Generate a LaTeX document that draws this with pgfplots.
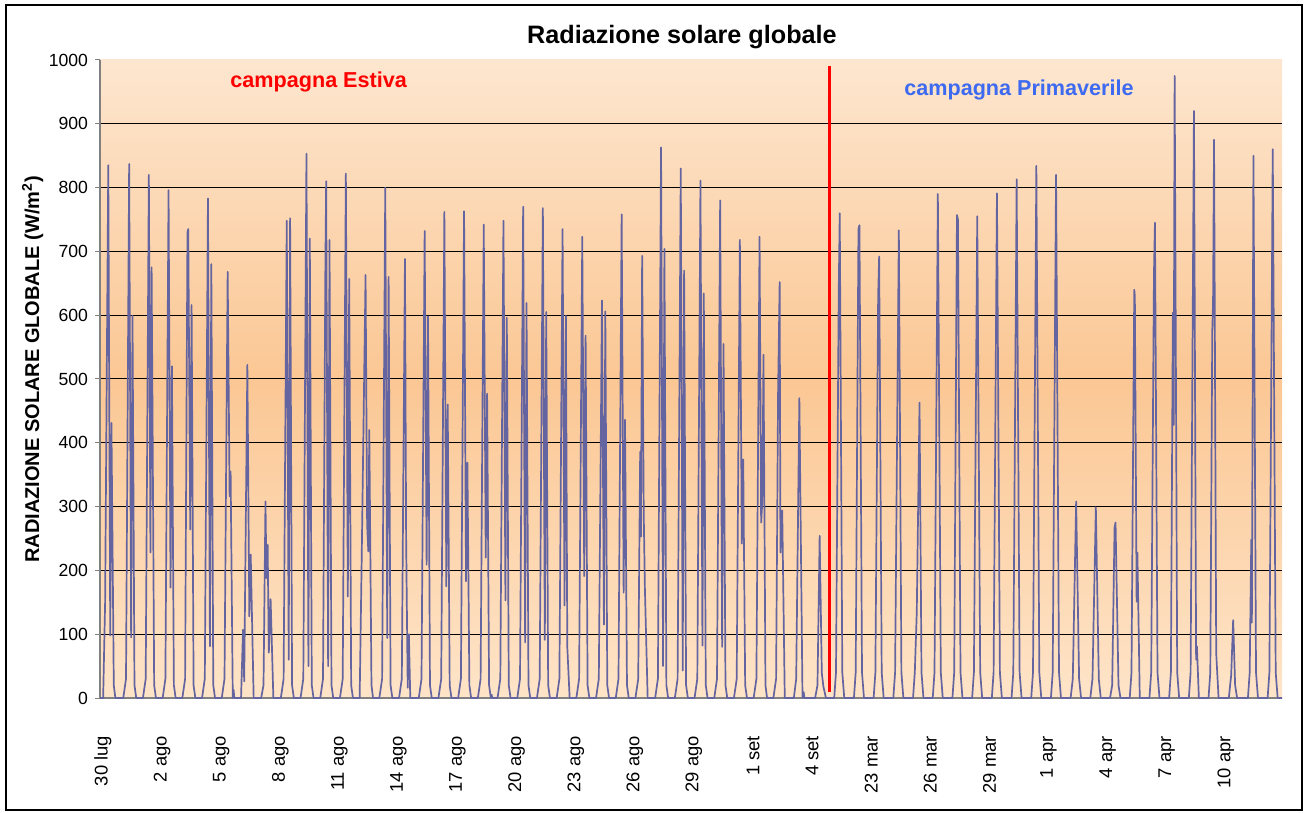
\documentclass[border=0pt]{standalone}
\usepackage{fontspec}
\setmainfont{Liberation Sans}
\usepackage{pgfplots}
\pgfplotsset{compat=1.18}
\definecolor{serie}{RGB}{100,100,160}
\definecolor{bgtop}{RGB}{253,230,207}
\definecolor{bgmid}{RGB}{251,199,148}
\definecolor{bgbot}{RGB}{254,228,200}
\definecolor{primblue}{RGB}{61,106,240}
\definecolor{asse}{RGB}{128,128,128}

\begin{document}
\begin{tikzpicture}
\begin{axis}[
  name=ax,
  scale only axis, width=591pt, height=319pt,
  xmin=0, xmax=60, ymin=0, ymax=1000,
  clip=false,
  axis x line*=bottom, axis y line*=left,
  axis line style={asse, line width=0.6pt},
  axis background/.style={top color=bgtop, bottom color=bgbot, middle color=bgmid},
  ytick={0,100,...,900}, extra y ticks={1000}, extra y tick style={grid=none},
  ymajorgrids, grid style={black, line width=0.5pt},
  tick align=outside, ytick pos=left, major tick length=2.5pt,
  tick style={asse, line width=0.5pt},
  xtick={0.15,3.15,6.15,9.15,12.15,15.15,18.15,21.15,24.15,27.15,30.15,33.15,36.15,39.15,42.15,45.15,48.15,51.15,54.15,57.15},
  xticklabels={30 lug,2 ago,5 ago,8 ago,11 ago,14 ago,17 ago,20 ago,23 ago,26 ago,29 ago,1 set,4 set,23 mar,26 mar,29 mar,1 apr,4 apr,7 apr,10 apr},
  xtick style={draw=none},
  xticklabel style={rotate=90, anchor=east, font=\fontsize{9.2}{10}\selectfont},
  xticklabel shift=13pt,
  yticklabel style={font=\fontsize{8.8}{10}\selectfont},
  /pgf/number format/assume math mode=true,
  /pgf/number format/1000 sep={},
]
% radiazione oraria (W/m2), giorno per giorno
\addplot[serie, line width=0.85pt, line join=round] coordinates {
(0,0) (0.16,0) (0.26,150) (0.42,835) (0.52,98) (0.58,431) (0.70,20) (0.78,0)
(1.18,0) (1.32,30) (1.48,837) (1.58,95) (1.65,599) (1.75,20) (1.84,0)
(2.18,0) (2.32,30) (2.48,820) (2.56,228) (2.62,675) (2.75,20) (2.84,0)
(3.18,0) (3.32,30) (3.48,796) (3.58,173) (3.65,520) (3.75,20) (3.84,0)
(4.18,0) (4.32,30) (4.44,730) (4.48,735) (4.58,264) (4.65,616) (4.75,20) (4.84,0)
(5.18,0) (5.32,30) (5.48,783) (5.58,81) (5.65,680) (5.75,20) (5.84,0)
(6.18,0) (6.32,30) (6.48,668) (6.58,316) (6.63,355) (6.74,0) (6.78,13) (6.82,0)
(7.16,0) (7.26,107) (7.32,26) (7.48,522) (7.58,128) (7.65,225) (7.80,0)
(8.18,0) (8.30,20) (8.40,308) (8.45,188) (8.51,240) (8.57,71) (8.66,155) (8.80,0)
(9.18,0) (9.32,30) (9.48,748) (9.58,60) (9.65,752) (9.75,20) (9.84,0)
(10.18,0) (10.32,30) (10.48,853) (10.58,50) (10.65,720) (10.75,20) (10.84,0)
(11.18,0) (11.32,30) (11.44,675) (11.48,810) (11.58,50) (11.65,718) (11.75,20) (11.84,0)
(12.18,0) (12.32,30) (12.48,822) (12.58,159) (12.65,657) (12.75,20) (12.84,0)
(13.18,0) (13.28,209) (13.48,663) (13.56,272) (13.62,230) (13.67,420) (13.78,20) (13.86,0)
(14.18,0) (14.32,30) (14.48,800) (14.58,94) (14.65,660) (14.75,20) (14.84,0)
(15.18,0) (15.32,30) (15.48,688) (15.54,248) (15.62,16) (15.68,100) (15.75,0)
(16.18,0) (16.32,30) (16.48,732) (16.58,209) (16.65,598) (16.75,20) (16.84,0)
(17.18,0) (17.32,30) (17.48,762) (17.58,175) (17.65,460) (17.75,20) (17.84,0)
(18.18,0) (18.32,30) (18.48,763) (18.58,183) (18.65,369) (18.75,20) (18.84,0)
(19.18,0) (19.32,30) (19.48,742) (19.58,220) (19.65,477) (19.75,20) (19.84,0) (19.88,5) (19.92,0)
(20.18,0) (20.32,30) (20.48,748) (20.58,153) (20.65,596) (20.75,20) (20.84,0)
(21.18,0) (21.32,30) (21.48,770) (21.58,87) (21.65,619) (21.75,20) (21.84,0)
(22.18,0) (22.32,30) (22.48,768) (22.58,91) (22.65,605) (22.75,20) (22.84,0)
(23.18,0) (23.32,30) (23.48,735) (23.58,145) (23.65,599) (23.72,80) (23.84,0)
(24.18,0) (24.32,30) (24.48,723) (24.58,191) (24.65,568) (24.75,20) (24.84,0)
(25.18,0) (25.32,30) (25.48,623) (25.58,115) (25.65,606) (25.75,20) (25.84,0)
(26.18,0) (26.32,30) (26.48,758) (26.58,165) (26.65,436) (26.75,20) (26.84,0)
(27.18,0) (27.32,30) (27.42,386) (27.46,253) (27.52,693) (27.60,290) (27.66,171) (27.80,0)
(28.18,0) (28.32,30) (28.48,863) (28.58,50) (28.65,704) (28.75,20) (28.84,0)
(29.18,0) (29.32,30) (29.48,830) (29.58,43) (29.65,670) (29.75,20) (29.84,0)
(30.18,0) (30.32,30) (30.48,811) (30.58,82) (30.65,634) (30.75,20) (30.84,0)
(31.18,0) (31.32,30) (31.48,780) (31.58,80) (31.65,555) (31.75,20) (31.84,0)
(32.18,0) (32.32,30) (32.48,718) (32.58,242) (32.65,374) (32.75,20) (32.84,0)
(33.18,0) (33.32,30) (33.48,723) (33.56,275) (33.62,308) (33.68,538) (33.78,20) (33.86,0)
(34.18,0) (34.32,30) (34.42,478) (34.50,652) (34.54,228) (34.63,294) (34.76,0)
(35.22,0) (35.34,30) (35.50,470) (35.66,0) (35.72,9) (35.76,0)
(36.30,0) (36.42,20) (36.53,254) (36.64,39) (36.72,18) (36.85,0) (37.02,0)
(37.27,0) (37.36,40) (37.50,640) (37.55,760) (37.68,40) (37.78,0)
(38.27,0) (38.36,40) (38.50,735) (38.55,741) (38.68,40) (38.78,0)
(39.27,0) (39.36,40) (39.50,630) (39.55,692) (39.68,40) (39.78,0)
(40.27,0) (40.36,40) (40.55,733) (40.68,40) (40.78,0)
(41.27,0) (41.36,40) (41.46,134) (41.60,463) (41.70,40) (41.80,0)
(42.27,0) (42.36,40) (42.53,790) (42.68,40) (42.78,0)
(43.27,0) (43.36,40) (43.50,757) (43.55,750) (43.68,40) (43.78,0)
(44.27,0) (44.36,40) (44.53,755) (44.68,40) (44.78,0)
(45.27,0) (45.36,40) (45.53,791) (45.68,40) (45.78,0)
(46.27,0) (46.36,40) (46.53,813) (46.68,40) (46.78,0)
(47.27,0) (47.36,40) (47.53,834) (47.68,40) (47.78,0)
(48.27,0) (48.36,40) (48.53,820) (48.68,40) (48.78,0)
(49.27,0) (49.38,30) (49.55,308) (49.70,30) (49.80,0)
(50.27,0) (50.38,30) (50.55,299) (50.70,30) (50.80,0)
(51.27,0) (51.38,20) (51.50,267) (51.55,275) (51.70,20) (51.80,0)
(52.27,0) (52.36,40) (52.50,640) (52.53,630) (52.62,151) (52.66,228) (52.78,0)
(53.27,0) (53.36,40) (53.50,665) (53.55,745) (53.68,40) (53.78,0)
(54.27,0) (54.36,40) (54.46,604) (54.50,428) (54.55,975) (54.68,40) (54.78,0)
(55.27,0) (55.36,40) (55.53,920) (55.64,60) (55.68,81) (55.78,0)
(56.27,0) (56.36,40) (56.46,575) (56.50,620) (56.55,875) (56.66,70) (56.78,0)
(57.30,0) (57.42,36) (57.52,122) (57.62,20) (57.72,0)
(58.27,0) (58.36,40) (58.44,248) (58.47,118) (58.55,850) (58.68,40) (58.78,0)
(59.27,0) (59.36,40) (59.53,860) (59.68,40) (59.78,0) (60,0)
};
% separazione tra le due campagne
\addplot[red, line width=1.5pt] coordinates {(37.02,10) (37.02,990)};

\node[anchor=base, text=red, font=\bfseries\fontsize{10.8}{12}\selectfont] at (axis cs:11.1,957) {campagna Estiva};
\node[anchor=base, text=primblue, font=\bfseries\fontsize{10.8}{12}\selectfont] at (axis cs:46.65,945) {campagna Primaverile};
\node[anchor=base, font=\bfseries\fontsize{12.6}{14}\selectfont] at ([yshift=8.4pt]axis cs:29.54,1000) {Radiazione solare globale};
\node[rotate=90, font=\bfseries\fontsize{10}{12}\selectfont] at ([xshift=-33.7pt]axis cs:0,515) {RADIAZIONE SOLARE GLOBALE (W/m\textsuperscript{2})};
\end{axis}
\draw[black, line width=1pt] ([xshift=-47pt,yshift=-56pt]ax.south west) rectangle ([xshift=10pt,yshift=27.5pt]ax.north east);
\path ([xshift=-50pt,yshift=-57pt]ax.south west) rectangle ([xshift=12.5pt,yshift=30pt]ax.north east);
\end{tikzpicture}
\end{document}
